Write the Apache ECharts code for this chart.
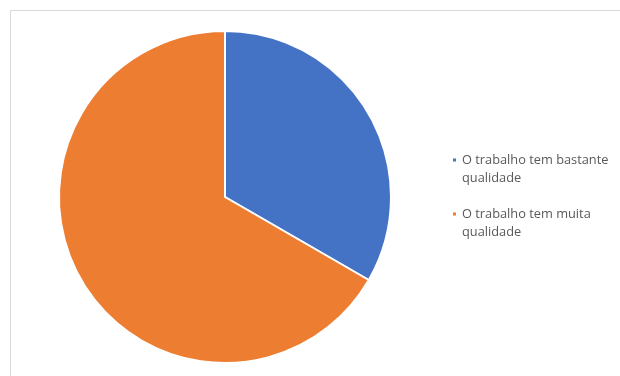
<!DOCTYPE html>
<html>
<head>
<meta charset="utf-8">
<script src="https://cdn.jsdelivr.net/npm/echarts@6/dist/echarts.min.js"></script>
<style>
  html, body { margin: 0; padding: 0; background: #ffffff; }
  #chart { width: 620px; height: 376px; }
</style>
</head>
<body>
<div id="chart"></div>
<script>
// Answer categories and their counts
const categories = ['O trabalho tem bastante qualidade', 'O trabalho tem muita qualidade'];
const values = [1, 2];
const colors = ['#4472C4', '#ED7D31'];

const chart = echarts.init(document.getElementById('chart'), null, { renderer: 'canvas' });

const LINE_H = 18;

chart.setOption({
  backgroundColor: '#ffffff',
  animation: false,
  color: colors,
  graphic: [{
    type: 'rect',
    shape: { x: 10.5, y: 10.5, width: 640, height: 400 },
    style: { fill: 'none', stroke: '#d9d9d9', lineWidth: 1 },
    silent: true
  }],
  legend: {
    orient: 'vertical',
    left: 446,
    top: 128,
    icon: 'rect',
    itemWidth: 5,
    itemHeight: 5,
    itemGap: 0,
    data: categories,
    // blank first line keeps the marker level with the first text line
    formatter: name => ' \n' + name.replace(/ qualidade$/, '\nqualidade'),
    textStyle: {
      fontFamily: 'Open Sans',
      fontSize: 12.8,
      color: '#595959',
      lineHeight: LINE_H
    }
  },
  series: [{
    type: 'pie',
    center: [225, 197],
    radius: 166,
    startAngle: 90,
    clockwise: true,
    label: { show: false },
    labelLine: { show: false },
    itemStyle: { borderColor: '#ffffff', borderWidth: 2 },
    emphasis: { disabled: true },
    data: categories.map((name, i) => ({ name, value: values[i] }))
  }]
});
</script>
</body>
</html>
